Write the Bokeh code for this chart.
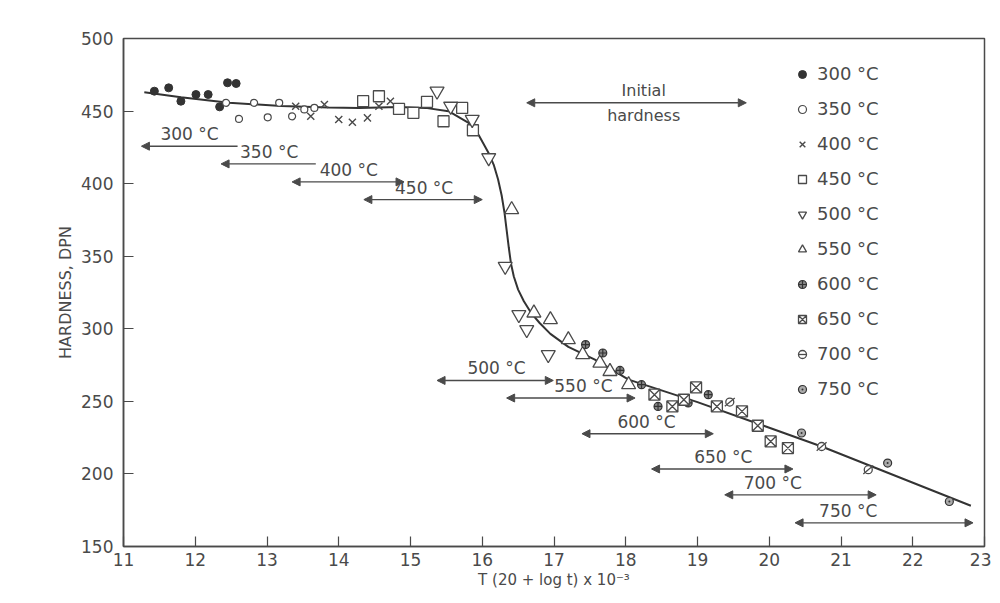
from bokeh.plotting import figure
from bokeh.models import Arrow, NormalHead, Legend, LegendItem, ColumnDataSource, FixedTicker
from bokeh.core.properties import value
from bokeh.embed import file_html
from bokeh.resources import INLINE

# ---------------- data ----------------
t300_x = [11.43, 11.63, 11.80, 12.01, 12.18, 12.34, 12.45, 12.57]
t300_y = [463.7, 466.0, 456.8, 461.4, 461.4, 452.9, 469.5, 469.0]

t350_x = [12.43, 12.61, 12.82, 13.01, 13.17, 13.35, 13.52, 13.66]
t350_y = [455.7, 444.6, 455.7, 445.7, 455.7, 446.4, 451.1, 452.2]

t400_x = [13.40, 13.61, 13.80, 14.00, 14.19, 14.40, 14.56, 14.72]
t400_y = [453.3, 446.4, 454.5, 444.2, 442.3, 445.3, 453.3, 456.8]

t450_x = [14.34, 14.56, 14.84, 15.04, 15.23, 15.46, 15.72, 15.87]
t450_y = [456.8, 460.2, 451.5, 448.8, 456.4, 443.0, 452.2, 436.8]

t500_x = [15.37, 15.56, 15.86, 16.09, 16.32, 16.51, 16.62, 16.92]
t500_y = [463.7, 453.3, 444.2, 417.8, 343.0, 309.7, 299.4, 282.2]

t550_x = [16.41, 16.72, 16.95, 17.20, 17.40, 17.64, 17.78, 18.04]
t550_y = [382.1, 310.9, 306.3, 292.5, 282.2, 276.4, 270.6, 261.5]

t600_x = [17.44, 17.68, 17.92, 18.22, 18.45, 18.87, 19.15]
t600_y = [289.1, 283.3, 271.3, 261.5, 246.5, 248.9, 254.6]

t650_x = [18.40, 18.65, 18.81, 18.98, 19.27, 19.62, 19.84, 20.02, 20.26]
t650_y = [254.6, 246.5, 251.1, 259.6, 246.5, 243.1, 233.2, 222.4, 217.8]

t700_x = [19.45, 20.73, 21.38]
t700_y = [249.5, 218.9, 202.9]

t750_x = [20.45, 21.65, 22.51]
t750_y = [228.2, 207.5, 181.0]

curve_x = [11.29, 11.80, 12.47, 13.20, 13.86, 14.28, 14.84, 15.21, 15.53, 15.81,
           15.95, 16.00, 16.09, 16.16, 16.22, 16.27, 16.31, 16.34, 16.37, 16.40,
           16.44, 16.50, 16.58, 16.68, 16.80, 16.95, 17.20, 17.57, 18.04, 19.00,
           20.73, 22.81]
curve_y = [463.0, 459.5, 455.7, 453.5, 452.5, 452.2, 452.8, 452.2, 449.9, 441.9,
           433.5, 429.0, 421.0, 413.0, 403.0, 392.0, 380.0, 368.0, 356.0, 345.0,
           336.0, 327.0, 319.0, 311.0, 304.0, 296.5, 287.5, 278.7, 265.0, 249.5,
           218.9, 178.1]

# temperature range arrows
range_labels = ["300 °C", "350 °C", "400 °C", "450 °C", "500 °C",
                "550 °C", "600 °C", "650 °C", "700 °C", "750 °C"]
range_x0 = [11.25, 12.36, 13.35, 14.35, 15.37, 16.34, 17.39, 18.36, 19.38, 20.36]
range_x1 = [12.59, 13.68, 14.91, 16.00, 16.99, 18.13, 19.22, 20.33, 21.49, 22.84]
range_y = [425.8, 413.6, 401.2, 389.0, 264.4, 252.3, 227.7, 203.4, 185.6, 166.3]
range_right_head = [False, False, True, True, True, True, True, True, True, True]
label_x = [11.92, 13.03, 14.14, 15.19, 16.20, 17.41, 18.29, 19.36, 20.05, 21.10]

initial_x0 = 16.62
initial_x1 = 19.68
initial_y = 455.7
initial_label_x = 18.25

x_ticks = list(range(11, 24))
y_ticks = list(range(150, 501, 50))

INK = "#4a4a4a"
FONT = "DejaVu Sans"

p = figure(width=991, height=594, x_range=(11, 23), y_range=(150, 500),
           frame_width=861, frame_height=508,
           output_backend="svg", toolbar_location=None,
           min_border_left=123, min_border_right=7, min_border_top=38, min_border_bottom=48,
           background_fill_color="white", border_fill_color="white")
p.grid.visible = False
p.outline_line_color = INK
p.outline_line_width = 1.5

for ax in (p.xaxis[0], p.yaxis[0]):
    ax.axis_line_color = INK
    ax.axis_line_width = 1.5
    ax.major_tick_in = 10
    ax.major_tick_out = 0
    ax.minor_tick_line_color = None
    ax.major_tick_line_color = INK
    ax.major_tick_line_width = 1.2
    ax.major_label_text_color = INK
    ax.major_label_text_font = FONT
    ax.major_label_text_font_size = "17px"
    ax.axis_label_text_color = INK
    ax.axis_label_text_font = FONT
    ax.axis_label_text_font_style = "normal"

p.xaxis.ticker = FixedTicker(ticks=x_ticks)
p.yaxis.ticker = FixedTicker(ticks=y_ticks)
p.xaxis.axis_label = "T (20 + log t) x 10⁻³"
p.xaxis.axis_label_text_font_size = "15px"
p.xaxis.axis_label_standoff = 2
p.xaxis.major_label_standoff = 6
p.yaxis.axis_label = "HARDNESS, DPN"
p.yaxis.axis_label_text_font_size = "16px"
p.yaxis.major_label_standoff = 10
p.yaxis.axis_label_standoff = 3

# curve
p.line(curve_x, curve_y, line_color="#333333", line_width=2)

# markers
r300 = p.scatter(t300_x, t300_y, marker="circle", size=8, fill_color="#333333", line_color="#333333")
r350 = p.scatter(t350_x, t350_y, marker="circle", size=7, fill_color="white", line_color=INK, line_width=1.2)
r400 = p.scatter(t400_x, t400_y, marker="x", size=10, line_color=INK, line_width=1.4)
r450 = p.scatter(t450_x, t450_y, marker="square", size=11, fill_color="white", line_color=INK, line_width=1.3)
r500 = p.scatter(t500_x, t500_y, marker="inverted_triangle", size=14, fill_color="white", line_color=INK, line_width=1.3)
r550 = p.scatter(t550_x, t550_y, marker="triangle", size=14, fill_color="white", line_color=INK, line_width=1.3)
r600 = p.scatter(t600_x, t600_y, marker="circle_cross", size=8, fill_color="#888888", line_color="#333333", line_width=1.2)
r650 = p.scatter(t650_x, t650_y, marker="square_x", size=11, fill_color="white", line_color=INK, line_width=1.3)
r700a = p.scatter(t700_x, t700_y, marker="circle", size=8, fill_color="white", line_color=INK, line_width=1.3)
r700b = p.scatter(t700_x, t700_y, marker="dash", size=13, angle=0.7, line_color=INK, line_width=1.3)
r750 = p.scatter(t750_x, t750_y, marker="circle_dot", size=8, fill_color="#aaaaaa", line_color="#333333", line_width=1.2)

# range arrows
for x0, x1, yy, rh in zip(range_x0, range_x1, range_y, range_right_head):
    p.add_layout(Arrow(x_start=x1, y_start=yy, x_end=x0, y_end=yy,
                       end=NormalHead(size=8, fill_color=INK, line_color=INK),
                       start=NormalHead(size=8, fill_color=INK, line_color=INK) if rh else None,
                       line_color=INK, line_width=1.4))

p.add_layout(Arrow(x_start=initial_x0, y_start=initial_y, x_end=initial_x1, y_end=initial_y,
                   end=NormalHead(size=8, fill_color=INK, line_color=INK),
                   start=NormalHead(size=8, fill_color=INK, line_color=INK),
                   line_color=INK, line_width=1.4))

lab_src = ColumnDataSource(dict(x=label_x, y=range_y, t=range_labels))
p.text(x="x", y="y", text="t", source=lab_src, text_align="center", text_baseline="bottom",
       y_offset=-2, text_font=value(FONT), text_font_size="17px", text_color=INK)

p.text(x=[initial_label_x], y=[initial_y], text=["Initial"], text_align="center", text_baseline="bottom",
       y_offset=-3, text_font=value(FONT), text_font_size="16px", text_color=INK)
p.text(x=[initial_label_x], y=[initial_y], text=["hardness"], text_align="center", text_baseline="top",
       y_offset=3, text_font=value(FONT), text_font_size="16px", text_color=INK)

legend = Legend(items=[
    LegendItem(label="300 °C", renderers=[r300]),
    LegendItem(label="350 °C", renderers=[r350]),
    LegendItem(label="400 °C", renderers=[r400]),
    LegendItem(label="450 °C", renderers=[r450]),
    LegendItem(label="500 °C", renderers=[r500]),
    LegendItem(label="550 °C", renderers=[r550]),
    LegendItem(label="600 °C", renderers=[r600]),
    LegendItem(label="650 °C", renderers=[r650]),
    LegendItem(label="700 °C", renderers=[r700a, r700b]),
    LegendItem(label="750 °C", renderers=[r750]),
], location=(669, 147), padding=0, margin=0, spacing=14, label_height=20, glyph_height=20,
   glyph_width=20, label_standoff=5, border_line_color=None, background_fill_alpha=0,
   label_text_font=FONT, label_text_font_size="18px", label_text_color=INK)
p.add_layout(legend)

open("out.html", "w").write(file_html(p, INLINE))
